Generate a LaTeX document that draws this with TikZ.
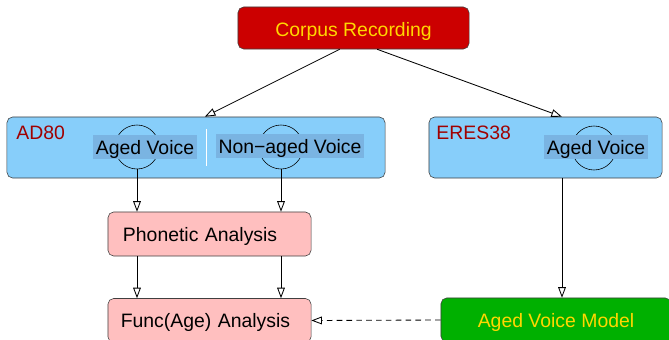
\documentclass[tikz,border=0pt]{standalone}
\usepackage{fontspec}
\setmainfont{Liberation Sans}
\usetikzlibrary{arrows.meta}
\definecolor{corpusred}{RGB}{204,0,0}
\definecolor{labelgold}{RGB}{255,215,0}
\definecolor{dbblue}{RGB}{135,206,250}
\definecolor{voiceblue}{RGB}{122,180,226}
\definecolor{dbred}{RGB}{160,0,0}
\definecolor{analysispink}{RGB}{255,191,191}
\definecolor{modelgreen}{RGB}{0,176,0}

\begin{document}
\begin{tikzpicture}[x=0.025cm,y=-0.025cm,->,>={Triangle[open,length=7.5pt,width=5.5pt]},semithick,
                    every node/.style={font=\fontsize{13.8}{16}\selectfont},
                    box/.style={draw=black!75,thin,rounded corners=4pt,text height=0.4cm,text depth=0.05cm},
                    dbname/.style={text=dbred,inner sep=0pt,anchor=base west},
                    voicering/.style={draw,circle,thin,minimum size=1.1cm,inner sep=0pt},
                    voice/.style={fill=voiceblue,inner xsep=1.8pt,inner ysep=0pt,text height=0.5cm,text depth=0.11cm,anchor=base},
                    analysis/.style={box,fill=analysispink,minimum width=5.075cm,minimum height=1.1cm,align=left}]
                    \useasboundingbox (0,0) rectangle (669,340);
                    \node[box, fill=corpusred, text=labelgold, minimum width=5.775cm, minimum height=1.05cm, text height=0.5cm] (corpus) at (353.5,28) {Corpus Recording};
                    \node[box, fill=dbblue, minimum width=9.45cm, minimum height=1.525cm] (ad80) at (196,147.5) {};
                    \node[box, fill=dbblue, minimum width=5.825cm, minimum height=1.525cm] (eres) at (545.5,147.5) {};
                    \node[dbname] (ad80name) at (16,139.5) {AD80};
                    \node[dbname] (eresname) at (436,139.5) {ERES38};
                    \node[voicering] (ring1) at (137,147) {};
                    \node[voicering] (ring2) at (281,147) {};
                    \node[voicering] (ring3) at (594,148) {};
                    \node[voice] (aged1) at (145,155) {Aged Voice};
                    \node[voice] (nonaged) at (290,154) {Non−aged Voice};
                    \node[voice] (aged2) at (596,155) {Aged Voice};
                    \coordinate (sepA) at (206.5,129);
                    \coordinate (sepB) at (206.5,166);
                    \draw[-,white,thick] (sepA) -- (sepB);
                    \node[analysis, text width=4.325cm, inner xsep=0.375cm] (phon) at (209.5,234) {Phonetic Analysis};
                    \node[analysis, text width=4.435cm, inner xsep=0.32cm] (func) at (209.5,320.5) {Func(Age) Analysis};
                    \node[box, fill=modelgreen, text=labelgold, minimum width=5.75cm, minimum height=1.1cm] (model) at (556,320) {Aged Voice Model};
                    \coordinate (eresfoot) at (562,178);
                    \draw (corpus.237) -- (ad80.74);
                    \draw (corpus.318) -- (eres.62);
                    \draw (ring1.south) -- (ring1.south |- phon.north);
                    \draw (ring2.south) -- (ring2.south |- phon.north);
                    \draw (phon.south -| ring1) -- (ring1 |- func.north);
                    \draw (phon.south -| ring2) -- (ring2 |- func.north);
                    \draw (eresfoot) -- (eresfoot |- model.north);
                    \draw[dash pattern=on 4pt off 3pt] (model.west) -- (func.east);
                \end{tikzpicture}
\end{document}
